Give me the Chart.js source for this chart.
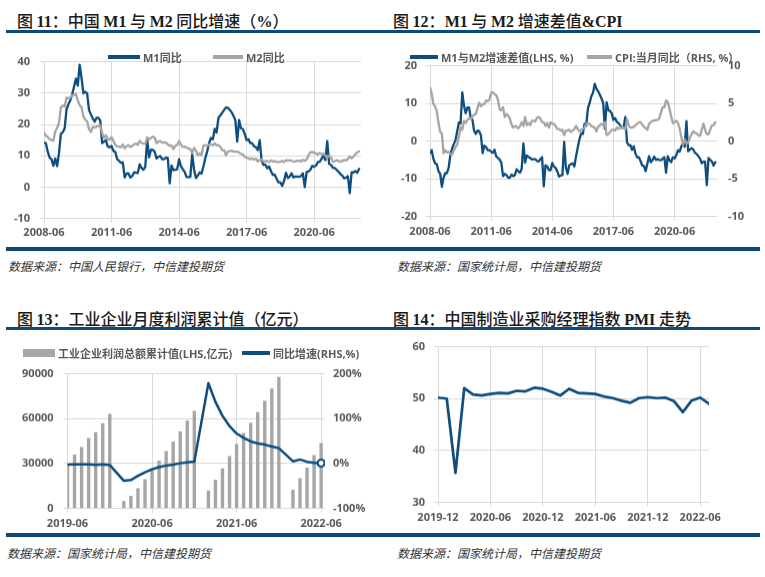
<!DOCTYPE html>
<html><head><meta charset="utf-8">
<script src="https://cdn.jsdelivr.net/npm/chart.js@4"></script>
<style>
body{margin:0;width:765px;height:577px;position:relative;background:#fff;overflow:hidden;font-family:'Open Sans','Noto Sans CJK SC',sans-serif;}
.title{position:absolute;font-family:'Noto Sans CJK SC',sans-serif;font-weight:500;font-size:16px;color:#1a1a1a;white-space:nowrap;line-height:18px;}
.title .l{font-family:'Liberation Serif',serif;font-weight:bold;font-size:16px;}
.rule{position:absolute;background:#0b4a7a;}
.src{position:absolute;font-style:italic;font-size:12px;color:#333;white-space:nowrap;line-height:14px;font-family:'Noto Sans CJK SC',sans-serif;}
.cv{position:absolute;}
.lg{position:absolute;display:flex;align-items:center;height:14px;font-size:11px;font-weight:bold;color:#595959;white-space:nowrap;}
.lg i{display:inline-block;margin-right:3px;}
</style></head>
<body>
<div class="title" style="left:17px;top:11px">图 <span class="l">11</span>：中国 <span class="l">M1</span> 与 <span class="l">M2</span> 同比增速（<span class="l">%</span>）</div>
<div class="title" style="left:393px;top:11px">图 <span class="l">12</span>：<span class="l">M1</span> 与 <span class="l">M2</span> 增速差值<span class="l">&amp;CPI</span></div>
<div class="title" style="left:17px;top:309px">图 <span class="l">13</span>：工业企业月度利润累计值（亿元）</div>
<div class="title" style="left:393px;top:309px">图 <span class="l">14</span>：中国制造业采购经理指数 <span class="l">PMI</span> 走势</div>

<div class="cv" style="left:0;top:45.4px;width:380px;height:204.6px"><canvas id="c1"></canvas></div>
<div class="cv" style="left:380px;top:48.4px;width:385px;height:201.6px"><canvas id="c2"></canvas></div>
<div class="cv" style="left:0;top:357.4px;width:380px;height:178.6px"><canvas id="c3"></canvas></div>
<div class="cv" style="left:380px;top:331.4px;width:385px;height:204.6px"><canvas id="c4"></canvas></div>

<div class="rule" style="left:6px;top:30px;width:374px;height:3px"></div>
<div class="rule" style="left:380px;top:30px;width:380px;height:3px"></div>
<div class="rule" style="left:6px;top:247px;width:374px;height:4px"></div>
<div class="rule" style="left:380px;top:247px;width:380px;height:4px"></div>
<div class="rule" style="left:6px;top:327px;width:374px;height:3px"></div>
<div class="rule" style="left:380px;top:327px;width:380px;height:3px"></div>
<div class="rule" style="left:6px;top:533px;width:374px;height:4px"></div>
<div class="rule" style="left:380px;top:533px;width:380px;height:4px"></div>

<div class="src" style="left:8px;top:259px">数据来源：中国人民银行，中信建投期货</div>
<div class="src" style="left:397px;top:259px">数据来源：国家统计局，中信建投期货</div>
<div class="src" style="left:7px;top:546px">数据来源：国家统计局，中信建投期货</div>
<div class="src" style="left:397px;top:546px">数据来源：国家统计局，中信建投期货</div>

<script>
// ---------- DATA ----------
// Monthly, 2008-06 .. 2022-06
const m1Growth = [
  14.2, 14.0, 11.3, 9.4, 8.9, 6.8, 9.1,
  6.7, 10.9, 17.0, 17.5, 18.7, 24.8, 26.4, 27.7, 29.5, 32.0, 34.6, 32.4,
  39.0, 34.9, 29.9, 30.4, 29.9, 24.6, 23.2, 21.9, 20.9, 22.1, 22.1, 21.2,
  14.0, 14.5, 15.0, 12.9, 12.7, 13.1, 11.6, 11.2, 8.9, 8.4, 7.8, 7.9,
  3.1, 4.3, 4.4, 3.1, 3.5, 4.7, 4.6, 4.5, 7.3, 6.1, 5.5, 6.5,
  15.3, 9.5, 11.9, 11.9, 11.3, 9.1, 9.7, 9.9, 8.9, 8.9, 9.4, 9.3,
  1.2, 6.9, 5.4, 5.5, 5.7, 8.9, 6.7, 5.7, 4.8, 3.2, 3.2, 3.2,
  10.6, 5.6, 2.9, 3.7, 4.7, 4.3, 6.6, 9.3, 11.4, 14.0, 15.7, 15.2,
  18.6, 17.4, 22.1, 22.9, 23.7, 24.6, 25.4, 25.3, 24.7, 23.9, 22.7, 21.4,
  14.5, 21.4, 18.8, 18.5, 17.0, 15.0, 15.3, 14.0, 14.0, 13.0, 12.7, 11.8,
  15.0, 8.5, 7.1, 7.2, 6.0, 6.6, 5.1, 3.9, 4.0, 2.7, 1.5, 1.5,
  0.4, 2.0, 4.6, 2.9, 3.4, 4.4, 3.1, 3.4, 3.4, 3.3, 3.5, 4.4,
  0.0, 4.8, 5.0, 5.5, 6.8, 6.5, 6.9, 8.0, 8.1, 9.1, 10.0, 8.6,
  14.7, 7.4, 7.1, 6.2, 6.1, 5.5, 4.9, 4.2, 3.7, 2.8, 3.0, 3.5,
  -1.9, 4.7, 4.7, 5.1, 4.6, 5.8
];
const m2Growth = [
  17.4, 16.4, 16.0, 15.3, 15.0, 14.8, 17.8,
  18.8, 20.5, 25.5, 26.0, 25.7, 28.5, 28.4, 28.5, 29.3, 29.4, 29.7, 27.7,
  26.1, 25.5, 22.5, 21.5, 21.0, 18.5, 17.6, 19.2, 19.0, 19.3, 19.5, 19.7,
  17.2, 15.7, 16.6, 15.3, 15.1, 15.9, 14.7, 13.5, 13.0, 12.9, 12.7, 13.6,
  12.4, 13.0, 13.4, 12.8, 13.2, 13.6, 13.9, 13.5, 14.8, 14.1, 13.9, 13.8,
  15.9, 15.2, 15.7, 16.1, 15.8, 14.0, 14.5, 14.7, 14.2, 14.3, 14.2, 13.6,
  13.2, 13.3, 12.1, 13.2, 13.4, 14.7, 13.5, 12.8, 12.9, 12.6, 12.3, 12.2,
  10.8, 12.5, 11.6, 10.1, 10.8, 10.2, 13.3, 13.3, 13.1, 13.5, 13.7, 13.3,
  14.0, 13.3, 13.4, 12.8, 11.8, 11.8, 10.2, 11.4, 11.5, 11.6, 11.4, 11.3,
  11.3, 11.1, 10.6, 10.5, 9.6, 9.4, 9.2, 8.9, 9.2, 8.8, 9.1, 8.2,
  8.6, 8.8, 8.2, 8.3, 8.3, 8.0, 8.5, 8.2, 8.3, 8.0, 8.0, 8.1,
  8.4, 8.0, 8.6, 8.5, 8.5, 8.5, 8.1, 8.2, 8.4, 8.4, 8.2, 8.7,
  8.4, 8.8, 10.1, 11.1, 11.1, 11.1, 10.7, 10.4, 10.9, 10.5, 10.7, 10.1,
  9.4, 10.1, 9.4, 8.1, 8.3, 8.6, 8.3, 8.2, 8.3, 8.7, 8.5, 9.0,
  9.8, 9.2, 9.7, 10.5, 11.1, 11.4
];
const m1m2Spread = [
  -3.2, -2.4, -4.7, -5.9, -6.1, -8.0, -8.7,
  -12.1, -9.6, -8.5, -8.5, -7.0, -3.7, -2.0, -0.8, 0.2, 2.6, 4.9, 4.7,
  12.9, 9.4, 7.4, 8.9, 8.9, 6.1, 5.6, 2.7, 1.9, 2.8, 2.6, 1.5,
  -3.2, -1.2, -1.6, -2.4, -2.4, -2.8, -3.1, -2.3, -4.1, -4.5, -4.9, -5.7,
  -9.3, -8.7, -9.0, -9.7, -9.7, -8.9, -9.3, -9.0, -7.5, -8.0, -8.4, -7.3,
  -0.6, -5.7, -3.8, -4.2, -4.5, -4.9, -4.8, -4.8, -5.3, -5.4, -4.8, -4.3,
  -12.0, -6.4, -6.7, -7.7, -7.7, -5.8, -6.8, -7.1, -8.1, -9.4, -9.1, -9.0,
  -0.2, -6.9, -8.7, -6.4, -6.1, -5.9, -6.7, -4.0, -1.7, 0.5, 2.0, 1.9,
  4.6, 4.1, 8.7, 10.1, 11.9, 12.8, 15.2, 13.9, 13.2, 12.3, 11.3, 10.1,
  3.2, 10.3, 8.2, 8.0, 7.4, 5.6, 6.1, 5.1, 4.8, 4.2, 3.6, 3.6,
  6.4, -0.3, -1.1, -1.1, -2.3, -1.4, -3.4, -4.3, -4.3, -5.3, -6.5, -6.6,
  -8.0, -6.0, -4.0, -5.6, -5.1, -4.1, -5.0, -4.8, -5.0, -5.1, -4.7, -4.3,
  -8.4, -4.0, -5.1, -5.6, -4.3, -4.6, -3.8, -2.4, -2.8, -1.4, -0.7, -1.5,
  5.3, -2.7, -2.3, -1.9, -2.2, -3.1, -3.4, -4.0, -4.6, -5.9, -5.5, -5.5,
  -11.7, -4.5, -5.0, -5.4, -6.5, -5.6
];
const cpiYoY = [
  7.1, 6.3, 4.9, 4.6, 4.0, 2.4, 1.2,
  1.0, -1.6, -1.2, -1.5, -1.4, -1.7, -1.8, -1.2, -0.8, -0.5, 0.6, 1.9,
  1.5, 2.7, 2.4, 2.8, 3.1, 2.9, 3.3, 3.5, 3.6, 4.4, 5.1, 4.6,
  4.9, 4.9, 5.4, 5.3, 5.5, 6.4, 6.5, 6.2, 6.1, 5.5, 4.2, 4.1,
  4.5, 3.2, 3.6, 3.4, 3.0, 2.2, 1.8, 2.0, 1.9, 1.7, 2.0, 2.5,
  2.0, 3.2, 2.1, 2.4, 2.1, 2.7, 2.7, 2.6, 3.1, 3.2, 3.0, 2.5,
  2.5, 2.0, 2.4, 1.8, 2.5, 2.3, 2.3, 2.0, 1.6, 1.6, 1.4, 1.5,
  0.8, 1.4, 1.4, 1.5, 1.2, 1.4, 1.6, 2.0, 1.6, 1.3, 1.5, 1.6,
  1.8, 2.3, 2.3, 2.3, 2.0, 1.9, 1.8, 1.3, 1.9, 2.1, 2.3, 2.1,
  2.5, 0.8, 0.9, 1.2, 1.5, 1.5, 1.4, 1.8, 1.6, 1.9, 1.7, 1.8,
  1.5, 2.9, 2.1, 1.8, 1.8, 1.9, 2.1, 2.3, 2.5, 2.5, 2.2, 1.9,
  1.7, 1.5, 2.3, 2.5, 2.7, 2.7, 2.8, 2.8, 3.0, 3.8, 4.5, 4.5,
  5.4, 5.2, 4.3, 3.3, 2.4, 2.5, 2.7, 2.4, 1.7, 0.5, -0.5, 0.2,
  -0.3, -0.2, 0.4, 0.9, 1.3, 1.1, 1.0, 0.8, 0.7, 1.5, 2.3, 1.5,
  0.9, 0.9, 1.5, 2.1, 2.1, 2.5
];
const moneyTickIdx = [0, 36, 72, 108, 144];
const moneyTickLabels = ['2008-06', '2011-06', '2014-06', '2017-06', '2020-06'];

// Monthly, 2019-06 .. 2022-06 (January not published -> null)
const profitMonths = ['2019-06','2019-07','2019-08','2019-09','2019-10','2019-11','2019-12',
  '2020-01','2020-02','2020-03','2020-04','2020-05','2020-06','2020-07','2020-08','2020-09','2020-10','2020-11','2020-12',
  '2021-01','2021-02','2021-03','2021-04','2021-05','2021-06','2021-07','2021-08','2021-09','2021-10','2021-11','2021-12',
  '2022-01','2022-02','2022-03','2022-04','2022-05','2022-06'];
const profitCum = [29800, 36000, 41100, 47000, 51000, 57000, 63200,
  null, 4900, 8500, 13500, 19500, 26000, 32000, 38300, 44700, 51400, 58700, 65200,
  null, 12000, 19200, 26800, 35000, 43000, 50500, 57200, 64300, 72000, 80100, 87900,
  null, 12500, 20300, 27300, 35600, 43800];
const profitYoY = [-2.4, -1.7, -1.7, -2.1, -2.9, -2.1, -3.3,
  null, -38.3, -36.7, -27.4, -19.3, -12.8, -8.1, -4.4, -2.4, 0.7, 2.4, 4.1,
  null, 178.9, 137.3, 106.0, 83.4, 66.9, 57.3, 49.5, 44.7, 42.2, 38.0, 34.3,
  null, 5.0, 9.0, 4.0, 1.5, 1.0];
const profitTickIdx = [0, 12, 24, 36];

// Monthly, 2019-12 .. 2022-07
const pmiMonths = ['2019-12','2020-01','2020-02','2020-03','2020-04','2020-05','2020-06','2020-07','2020-08','2020-09','2020-10','2020-11',
  '2020-12','2021-01','2021-02','2021-03','2021-04','2021-05','2021-06','2021-07','2021-08','2021-09','2021-10','2021-11',
  '2021-12','2022-01','2022-02','2022-03','2022-04','2022-05','2022-06','2022-07'];
const pmiValues = [50.2, 50.0, 35.7, 52.0, 50.8, 50.6, 50.9, 51.1, 51.0, 51.5, 51.4, 52.1,
  51.9, 51.3, 50.6, 51.9, 51.1, 51.0, 50.9, 50.4, 50.1, 49.6, 49.2, 50.1,
  50.3, 50.1, 50.2, 49.5, 47.4, 49.6, 50.2, 49.0];
const pmiTickIdx = [0, 6, 12, 18, 24, 30];

// ---------- STYLE ----------
const BLUE = '#0e4d7d', GRAY = '#a5a5a5', BAR = '#a6a6a6', GRID = '#d9d9d9', TXT = '#595959';
const TICK_FONT = {family: "'Open Sans','Noto Sans CJK SC',sans-serif", size: 11, weight: 'bold'};

function xAxis(max, tickIdx, labelOf, height, pad) {
  return {
    type: 'linear', min: 0, max: max, offset: false, border: {display: false},
    grid: {color: GRID, lineWidth: 1, tickLength: 4, offset: false},
    afterBuildTicks: s => { s.ticks = tickIdx.map(v => ({value: v})); },
    ticks: {font: TICK_FONT, color: TXT, padding: pad, maxRotation: 0, autoSkip: false,
      callback: v => (tickIdx.indexOf(v) < 0 ? null : labelOf(v))},
    afterFit: s => { s.height = height; }
  };
}
function yAxis(min, max, step, width, pad, position, gridOn, fmt) {
  return {
    type: 'linear', position: position, min: min, max: max, border: {display: false},
    grid: {color: GRID, lineWidth: 1, tickLength: 4, drawOnChartArea: gridOn, drawTicks: gridOn},
    ticks: {stepSize: step, font: TICK_FONT, color: TXT, padding: pad,
      callback: v => (fmt ? fmt(v) : String(v))},
    afterFit: s => { s.width = width; }
  };
}
const base = {responsive: true, maintainAspectRatio: false, animation: false,
  plugins: {legend: {display: false}, tooltip: {enabled: false}},
  elements: {point: {radius: 0}, line: {tension: 0, borderJoinStyle: 'round', borderCapStyle: 'round'}}};

function legend(items) {
  items.forEach(it => {
    const d = document.createElement('div');
    d.className = 'lg';
    d.style.left = it.left + 'px';
    d.style.top = (it.cy - 7) + 'px';
    const s = document.createElement('i');
    s.style.width = it.w + 'px';
    s.style.height = it.h + 'px';
    s.style.background = it.color;
    d.appendChild(s);
    d.appendChild(document.createTextNode(it.label));
    document.body.appendChild(d);
  });
}

// ---------- CHART 1 ----------
const moneyIdx = m1Growth.map((_, i) => i);
const ch1 = new Chart(document.getElementById('c1'), {
  type: 'line',
  data: {labels: moneyIdx, datasets: [
    {label: 'M1同比', data: m1Growth, borderColor: BLUE, borderWidth: 2.3, order: 1},
    {label: 'M2同比', data: m2Growth, borderColor: GRAY, borderWidth: 2.3, order: 0}
  ]},
  options: Object.assign({}, base, {
    layout: {padding: {top: 0, right: 19, left: 0, bottom: 0}},
    scales: {
      x: xAxis(169, moneyTickIdx, v => moneyTickLabels[moneyTickIdx.indexOf(v)], 32, 4),
      y: yAxis(-10, 40, 10, 44, 10, 'left', true)
    }
  })
});
legend([
  {left: 108, cy: 57, w: 32, h: 4, color: BLUE, label: ch1.data.datasets[0].label},
  {left: 213, cy: 57, w: 30, h: 4, color: GRAY, label: ch1.data.datasets[1].label}
]);

// ---------- CHART 2 ----------
const ch2 = new Chart(document.getElementById('c2'), {
  type: 'line',
  data: {labels: moneyIdx, datasets: [
    {label: 'M1与M2增速差值(LHS, %)', data: m1m2Spread, borderColor: BLUE, borderWidth: 2.3, yAxisID: 'y', order: 1},
    {label: 'CPI:当月同比（RHS, %）', data: cpiYoY, borderColor: GRAY, borderWidth: 2.3, yAxisID: 'y1', order: 0}
  ]},
  options: Object.assign({}, base, {
    layout: {padding: {top: 0, right: 0, left: 0, bottom: 0}},
    scales: {
      x: xAxis(169, moneyTickIdx, v => moneyTickLabels[moneyTickIdx.indexOf(v)], 34, 5),
      y: yAxis(-20, 20, 10, 50, 9, 'left', true),
      y1: yAxis(-10, 10, 5, 48, 11, 'right', false)
    }
  })
});
legend([
  {left: 410, cy: 57, w: 28, h: 4, color: BLUE, label: ch2.data.datasets[0].label},
  {left: 587, cy: 57, w: 25, h: 4, color: GRAY, label: ch2.data.datasets[1].label}
]);

// ---------- CHART 3 ----------
const profitIdx = profitMonths.map((_, i) => i);
const lastIdx = profitIdx.length - 1;
const ch3 = new Chart(document.getElementById('c3'), {
  type: 'bar',
  data: {labels: profitIdx, datasets: [
    {type: 'line', label: '同比增速(RHS,%)', data: profitYoY, yAxisID: 'y1', borderColor: BLUE, borderWidth: 2.5,
      spanGaps: true, order: 0,
      pointRadius: c => (c.dataIndex === lastIdx ? 3.5 : 0),
      pointBackgroundColor: '#fff', pointBorderColor: BLUE, pointBorderWidth: 2.2},
    {type: 'bar', label: '工业企业利润总额累计值(LHS,亿元)', data: profitCum, yAxisID: 'y', backgroundColor: BAR,
      categoryPercentage: 1, barPercentage: 0.48, order: 1}
  ]},
  options: Object.assign({}, base, {
    layout: {padding: {top: 0, right: 0, left: 0, bottom: 0}},
    scales: {
      x: xAxis(36.55, profitTickIdx, v => profitMonths[v], 28, 5),
      y: yAxis(0, 90000, 30000, 67.5, 10, 'left', true),
      y1: yAxis(-100, 200, 100, 55, 8, 'right', false, v => v + '%')
    }
  })
});
legend([
  {left: 23, cy: 352.5, w: 32, h: 8, color: BAR, label: ch3.data.datasets[1].label},
  {left: 242, cy: 352.5, w: 28, h: 4, color: BLUE, label: ch3.data.datasets[0].label}
]);

// ---------- CHART 4 ----------
const pmiIdx = pmiMonths.map((_, i) => i);
new Chart(document.getElementById('c4'), {
  type: 'line',
  data: {labels: pmiIdx, datasets: [
    {label: 'PMI', data: pmiValues, borderColor: BLUE, borderWidth: 2.7}
  ]},
  options: Object.assign({}, base, {
    layout: {padding: {top: 0, right: 56, left: 0, bottom: 0}},
    scales: {
      x: xAxis(31, pmiTickIdx, v => pmiMonths[v], 34, 5),
      y: yAxis(30, 60, 10, 58, 9, 'left', true)
    }
  })
});
</script>
</body></html>
